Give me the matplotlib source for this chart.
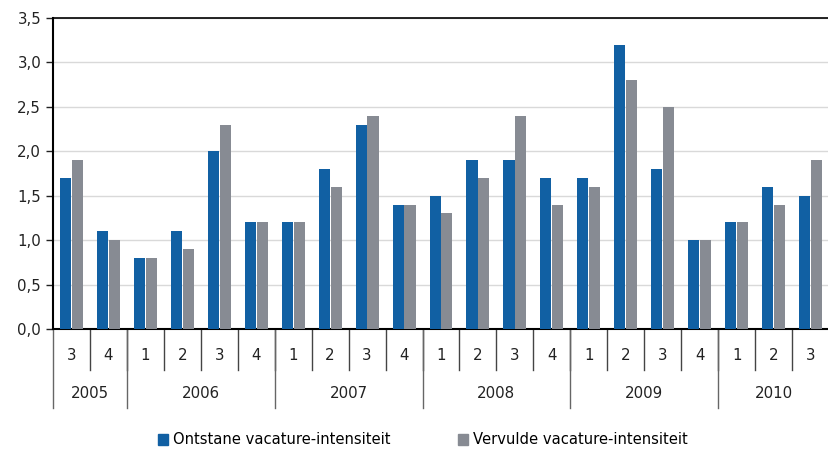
import numpy as np
import matplotlib.pyplot as plt
from matplotlib.patches import Patch

years = ['2005', '2006', '2007', '2008', '2009', '2010']
quarters = ['3', '4', '1', '2', '3', '4', '1', '2', '3', '4', '1', '2', '3', '4',
            '1', '2', '3', '4', '1', '2', '3']
quarters_per_year = [2, 4, 4, 4, 4, 3]
ontstaan = [1.7, 1.1, 0.8, 1.1, 2.0, 1.2, 1.2, 1.8, 2.3, 1.4, 1.5, 1.9, 1.9, 1.7,
            1.7, 3.2, 1.8, 1.0, 1.2, 1.6, 1.5]
vervuld = [1.9, 1.0, 0.8, 0.9, 2.3, 1.2, 1.2, 1.6, 2.4, 1.4, 1.3, 1.7, 2.4, 1.4,
           1.6, 2.8, 2.5, 1.0, 1.2, 1.4, 1.9]

blue = '#1160a3'
grey = '#878b93'
plt.rcParams['font.family'] = ['DejaVu Sans']

fig = plt.figure(figsize=(8.29, 4.5), dpi=100)
ax = fig.add_axes([53 / 829, 1 - 329 / 450, 776 / 829, 311 / 450])

x = np.arange(len(quarters))
w = 0.3
ax.bar(x - w / 2 - 0.01, ontstaan, w, color=blue, zorder=3)
ax.bar(x + w / 2 + 0.01, vervuld, w, color=grey, zorder=3)

ax.set_xlim(-0.5, len(quarters) - 0.5)
ax.set_ylim(0, 3.5)
ax.set_yticks(np.arange(0, 3.51, 0.5))
ax.set_yticklabels([f'{v:.1f}'.replace('.', ',') for v in np.arange(0, 3.51, 0.5)])
ax.tick_params(axis='y', labelsize=10.8, length=5, width=1, colors='#222222')
ax.set_xticks([])
ax.grid(axis='y', color='#d9d9d9', linewidth=1, zorder=0)
ax.spines['right'].set_visible(False)
for s in ['left', 'bottom', 'top']:
    ax.spines[s].set_linewidth(1.5)
    ax.spines[s].set_color('black')
ax.spines['top'].set_linewidth(1.2)

trans = ax.get_xaxis_transform()
q_bottom = -41 / 311
y_bottom = -79 / 311
for i, q in enumerate(quarters):
    ax.text(i, -26 / 311, q, transform=trans, ha='center', va='center',
            fontsize=10.8, color='#222222')
for b in range(1, len(quarters)):
    ax.plot([b - 0.5, b - 0.5], [0, q_bottom], transform=trans, color='#444444',
            linewidth=1, clip_on=False)

start = 0
edges = [-0.5]
for yr, n in zip(years, quarters_per_year):
    center = start + (n - 1) / 2
    ax.text(center, -64 / 311, yr, transform=trans, ha='center', va='center',
            fontsize=10.8, color='#222222')
    start += n
    edges.append(start - 0.5)
for e in edges[:-1]:
    ax.plot([e, e], [0, y_bottom], transform=trans, color='#666666',
            linewidth=1, clip_on=False)

handles = [Patch(color=blue, label='Ontstane vacature-intensiteit'),
           Patch(color=grey, label='Vervulde vacature-intensiteit')]
fig.legend(handles=handles, loc='center', bbox_to_anchor=(0.51, 1 - 440 / 450),
           ncol=2, frameon=False, fontsize=10.6, handlelength=0.7, handleheight=0.7,
           handletextpad=0.3, columnspacing=4.6)

fig.savefig('out.png', dpi=100)
